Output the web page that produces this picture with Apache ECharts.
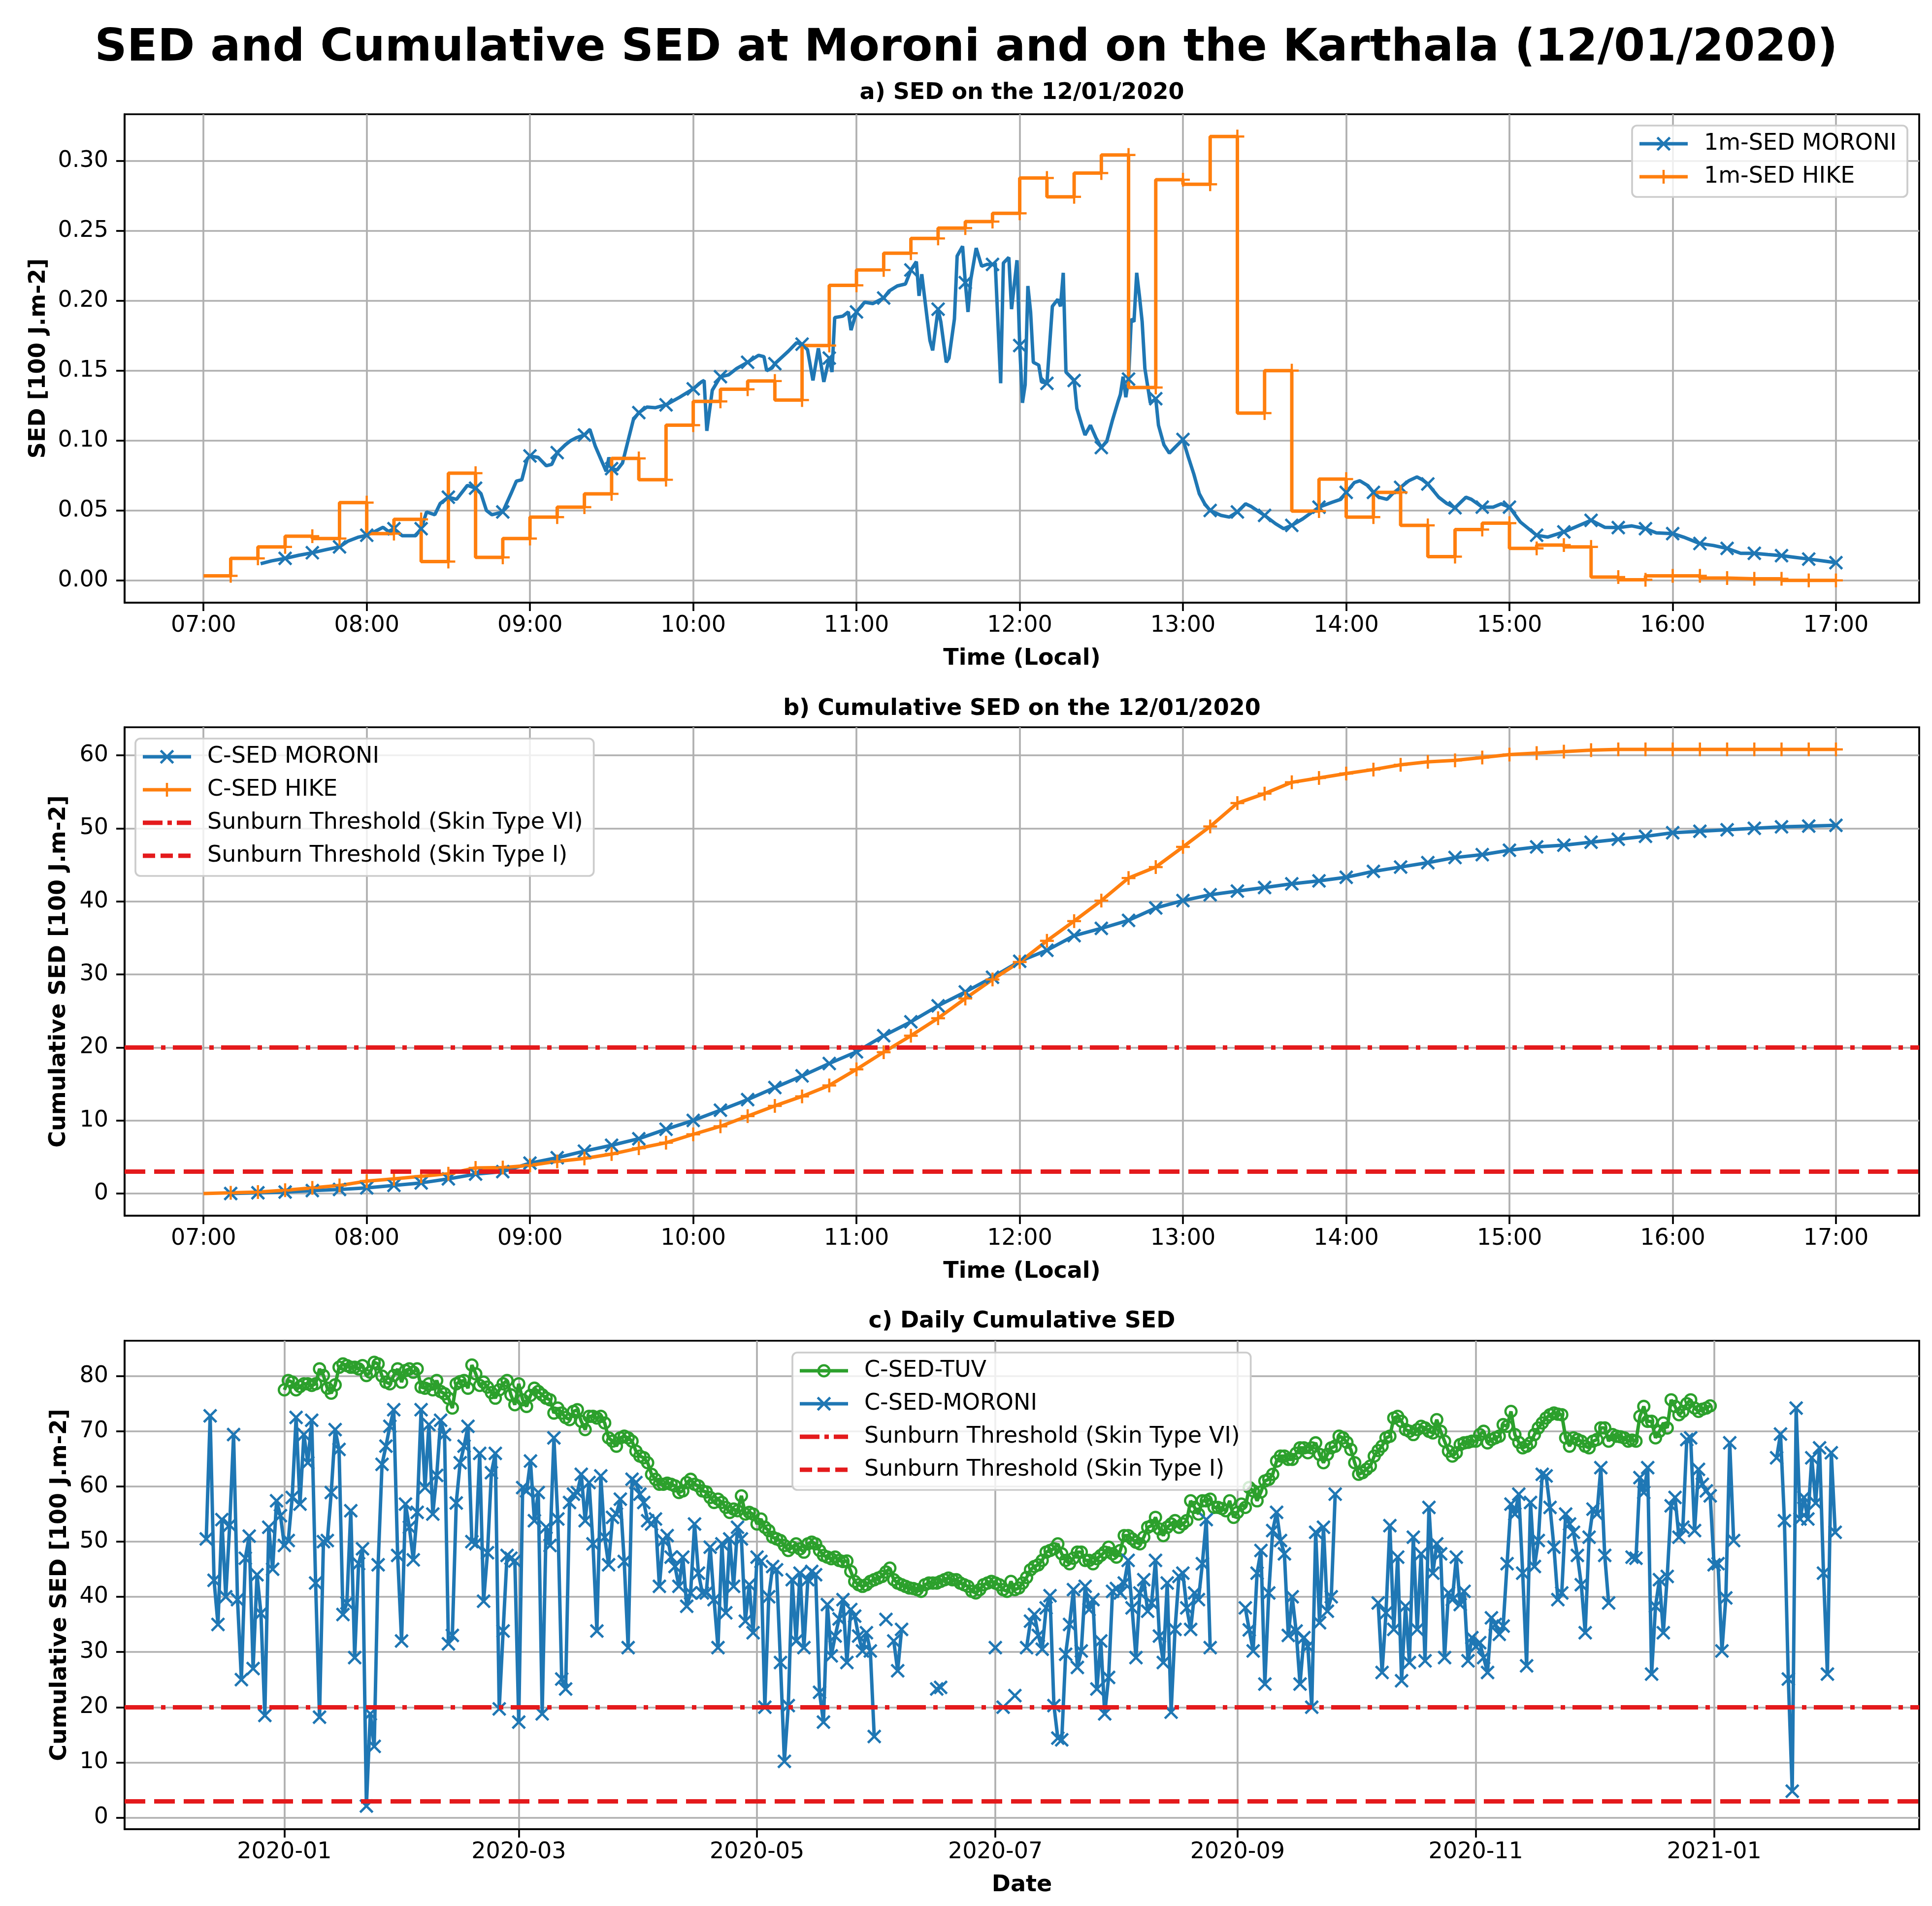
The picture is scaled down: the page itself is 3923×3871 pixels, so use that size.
<!DOCTYPE html>
<html>
<head>
<meta charset="utf-8">
<script src="https://cdn.jsdelivr.net/npm/echarts@6.0.0/dist/echarts.min.js"></script>
<style>
  html, body { margin: 0; padding: 0; background: #fff; }
  #main { width: 3923px; height: 3871px; }
</style>
</head>
<body>
<div id="main"></div>
<script>
// ---- panel a : 1-minute SED (readings, [100 J.m-2]) ----
var moroniMinTimes = [
  '07:21','07:25','07:30','07:35','07:40','07:45','07:50','07:53','07:57','08:00',
  '08:03','08:06','08:08','08:10','08:13','08:18','08:20','08:22','08:25','08:27',
  '08:30','08:33','08:37','08:40','08:42','08:44','08:46','08:48','08:50','08:53',
  '08:55','08:57','08:59','09:00','09:03','09:06','09:08','09:10','09:13','09:15',
  '09:17','09:20','09:22','09:24','09:26','09:28','09:29','09:30','09:32','09:34',
  '09:36','09:38','09:40','09:43','09:46','09:50','09:55','10:00','10:03','10:04',
  '10:05','10:07','10:10','10:13','10:16','10:20','10:24','10:26','10:27','10:29',
  '10:30','10:35','10:38','10:40','10:42','10:44','10:46','10:48','10:50','10:51',
  '10:52','10:55','10:57','10:58','11:00','11:03','11:06','11:10','11:12','11:15',
  '11:18','11:20','11:22','11:23','11:24','11:26','11:27','11:28','11:30','11:31',
  '11:33','11:34','11:36','11:37','11:39','11:40','11:41','11:42','11:44','11:46',
  '11:48','11:50','11:51','11:53','11:54','11:56','11:57','11:59','12:00','12:01',
  '12:02','12:03','12:04','12:05','12:07','12:08','12:10','12:12','12:14','12:15',
  '12:16','12:17','12:20','12:21','12:23','12:24','12:26','12:28','12:30','12:32',
  '12:34','12:36','12:37','12:38','12:39','12:40','12:41','12:42','12:43','12:44',
  '12:45','12:46','12:48','12:50','12:51','12:53','12:55','12:57','13:00','13:02',
  '13:04','13:06','13:08','13:10','13:14','13:17','13:20','13:23','13:25','13:30',
  '13:34','13:37','13:40','13:44','13:50','13:55','13:58','14:00','14:03','14:05',
  '14:08','14:10','14:12','14:15','14:17','14:20','14:23','14:26','14:28','14:30',
  '14:34','14:37','14:40','14:44','14:46','14:50','14:54','14:57','15:00','15:04',
  '15:10','15:14','15:20','15:24','15:30','15:35','15:40','15:45','15:50','15:54',
  '16:00','16:04','16:10','16:15','16:20','16:25','16:30','16:35','16:40','16:45',
  '16:50','16:55','17:00'
];
var moroniMinSed = [
  0.012,0.014,0.0158,0.018,0.0198,0.022,0.024,0.028,0.031,0.0323,
  0.035,0.038,0.035,0.037,0.032,0.032,0.037,0.049,0.047,0.055,
  0.0595,0.058,0.068,0.066,0.062,0.050,0.047,0.048,0.049,0.062,
  0.071,0.072,0.087,0.089,0.088,0.082,0.083,0.0914,0.097,0.100,
  0.102,0.104,0.108,0.096,0.087,0.078,0.088,0.080,0.079,0.084,
  0.0996,0.115,0.120,0.124,0.1235,0.1256,0.131,0.137,0.142,0.143,
  0.107,0.136,0.1457,0.147,0.1516,0.156,0.161,0.160,0.150,0.152,
  0.155,0.164,0.170,0.169,0.165,0.143,0.166,0.142,0.159,0.149,
  0.188,0.189,0.192,0.179,0.192,0.199,0.198,0.202,0.207,0.2106,
  0.212,0.222,0.228,0.2035,0.219,0.187,0.1716,0.1645,0.194,0.185,
  0.156,0.159,0.187,0.232,0.239,0.213,0.192,0.215,0.2377,0.2247,
  0.226,0.226,0.227,0.141,0.227,0.231,0.194,0.229,0.168,0.127,
  0.140,0.2106,0.192,0.156,0.154,0.142,0.141,0.196,0.201,0.196,
  0.220,0.149,0.143,0.123,0.110,0.104,0.111,0.102,0.095,0.0996,
  0.114,0.127,0.133,0.1457,0.131,0.144,0.187,0.185,0.220,0.2035,
  0.185,0.1516,0.127,0.130,0.111,0.097,0.091,0.095,0.1008,0.088,
  0.076,0.062,0.0548,0.050,0.0465,0.0453,0.049,0.0548,0.053,0.0465,
  0.0406,0.037,0.0394,0.044,0.0524,0.056,0.058,0.063,0.070,0.0713,
  0.0677,0.063,0.0595,0.058,0.062,0.0666,0.0713,0.074,0.072,0.069,
  0.0595,0.055,0.052,0.0595,0.058,0.0524,0.0524,0.0548,0.0524,0.0418,
  0.0323,0.031,0.0347,0.038,0.043,0.038,0.0378,0.039,0.037,0.034,
  0.0335,0.031,0.0264,0.025,0.0229,0.0194,0.0194,0.0185,0.0177,0.0165,
  0.0153,0.014,0.0127
];
// hike levels, one per 10 minute block starting 07:00
var hikeStart = '07:00';
var hikeLevels = [
  0.0033,0.0158,0.024,0.0316,0.030,0.0557,
  0.0335,0.0437,0.0135,0.0767,0.0165,0.030,
  0.0453,0.0524,0.0619,0.0873,0.072,0.111,
  0.128,0.1367,0.1426,0.129,0.168,0.211,
  0.222,0.234,0.2446,0.252,0.2566,0.2625,
  0.2878,0.2743,0.2913,0.3043,0.138,0.2866,
  0.2833,0.3175,0.1197,0.150,0.0496,0.0725,
  0.0453,0.063,0.0394,0.017,0.0364,0.041,
  0.0229,0.0253,0.024,0.0024,0.0005,0.0033,
  0.0033,0.0017,0.0012,0.0012,0.0,0.0
];

// ---- panel b : cumulative SED, every 10 minutes ----
var cumMoroniStart = '07:10';
var cumMoroni = [
  0.0,0.1,0.2,0.4,0.55,0.77,
  1.1,1.45,2.0,2.65,3.0,4.15,
  4.9,5.8,6.6,7.5,8.8,10.0,
  11.4,12.85,14.5,16.1,17.8,19.4,
  21.6,23.5,25.7,27.6,29.6,31.8,
  33.3,35.3,36.3,37.4,39.1,40.1,
  40.9,41.4,41.9,42.4,42.8,43.3,
  44.1,44.7,45.3,46.0,46.4,47.0,
  47.45,47.7,48.1,48.5,48.9,49.4,
  49.6,49.8,50.0,50.2,50.3,50.4
];
var cumHikeStart = '07:00';
var cumHike = [
  0,
  0.1,0.2,0.45,0.77,1.1,1.7,
  2.0,2.35,2.7,3.5,3.55,3.85,
  4.4,4.8,5.4,6.2,6.95,8.1,
  9.2,10.6,12.0,13.3,14.8,17.0,
  19.35,21.6,24.0,26.7,29.3,31.7,
  34.6,37.3,40.1,43.2,44.7,47.45,
  50.25,53.45,54.75,56.3,56.9,57.5,
  58.05,58.7,59.1,59.3,59.7,60.1,
  60.3,60.5,60.7,60.8,60.8,60.8,
  60.8,60.8,60.8,60.8,60.8,60.8
];
var thresholdSkinVI = 20;
var thresholdSkinI = 3;

// ---- panel c : daily cumulative SED ----
var dailyMoroniStart = '2019-12-12';
var dailyMoroni = [
  // 2019-12-12 .. 2019-12-31
  50.5,72.8,43,35,54,40,53,69.4,39.5,25,47,51,27,44,37,18.5,52.6,45,57.4,54.7,
  // 2020-01
  49.3,50.2,58,72.5,56.8,69.4,64.3,72,42.5,18.2,50,50.2,58.9,70.3,66.7,36.8,38.9,55.6,29,46,48.7,2.1,18.8,12.9,45.8,64,67.3,70.9,73.9,47.5,32,
  // 2020-02
  56.8,52.6,46.7,55.3,73.9,59.8,71.2,55,62,72,69.4,31.5,33,57,64.3,67.3,70.9,50,49.6,66,39.2,48,62.5,66,19.7,33.8,47.5,47,46.5,
  // 2020-03
  17.3,59.8,59.2,64.6,53.8,58.9,18.8,52.6,49.3,68.8,54.1,25.1,23.3,57.1,58.6,58.9,62.2,53.8,60.7,49.6,33.8,61.9,50.8,45.8,54.4,55,57.7,46.4,30.8,61.3,60.7,
  // 2020-04
  58.6,57.1,53.8,53.2,54.1,41.9,50.2,51.1,47.2,45.5,41.9,47.2,38.3,40.7,53.2,44.3,40.7,40.7,49,39.5,30.8,49.6,37.1,50.5,41.9,52.6,50.5,35.6,42.2,33.5,
  // 2020-05
  47.2,46.4,20,40,45.5,44.9,28.1,10.2,20.3,43.1,32,44.3,30.8,43.1,44.6,44,22.7,17.3,38.6,29.3,32.9,36,39.5,28.1,37.7,36.5,32.9,30.2,33.5,30.2,14.7,
  // 2020-06
  null,null,35.9,null,32,26.6,34.1,null,null,null,null,null,null,null,null,23.3,23.6,
  null,null,null,null,null,null,null,null,null,null,null,null,null,
  // 2020-07
  30.8,null,20,null,null,22.1,null,null,30.8,35.6,36.8,33,30.5,38,40.2,20.3,14.4,14.1,29.6,35,41.3,27.2,30.2,41.9,37.7,39.5,23.3,32,18.8,25.4,41,
  // 2020-08
  41.5,40.7,42.5,46.6,38,29,40.7,43.1,37.4,38.9,46.6,32.9,28.1,42.5,19.1,34.1,43.7,44.3,38,34.1,40.7,39.5,46,54,30.8,null,null,null,null,null,null,
  // 2020-09
  null,null,38,34,30.2,44.3,48.4,24.2,40.7,52,55.3,50.2,47.8,33,40,33.8,24.2,32.6,31,20,51.7,35.3,52.6,37.4,40,58.6,null,null,null,null,
  // 2020-10
  null,null,null,null,null,null,38.9,26.3,37.1,52.9,34.1,47.2,24.8,38.3,28.1,50.8,34.1,47.8,28.4,56.2,44.3,49.6,47.8,29,40.7,39.5,47.2,38.6,41,28.4,32.6,
  // 2020-11
  31,31.7,29,26.3,36.2,35,33.2,34.7,46,56.8,55,58.6,44.3,27.5,57.1,45.5,50.2,62.2,61.9,56.2,49,39.5,40.7,55,53.2,51.7,47.5,42.2,33.5,50.8,
  // 2020-12
  55.9,55,63.4,47.5,38.9,null,null,null,null,null,47.2,47,61.6,58.9,63.4,26,38.3,43.1,33.5,43.7,56.5,58,50.8,52.6,68.5,68.8,52,63.1,60.4,59.2,58.3,
  // 2021-01
  45.8,46,30.2,39.8,67.9,50.2,null,null,null,null,null,null,null,null,null,null,65.2,69.5,53.8,25.1,4.8,74.2,54.1,58,54.1,65.2,57,67,44.3,26,66.1,
  // 2021-02-01
  51.7
];
var dailyTuvStart = '2020-01-01';
var dailyTuv = [
  // 2020-01
  77.5,79.2,78.9,77.5,78.1,78.6,78.6,78.3,78.6,81.3,80.1,77.8,76.9,78.4,81.6,82.2,81.9,81.6,81.6,81.3,81.9,80.1,80.7,82.5,82.2,80.0,78.9,78.6,80.1,81.3,78.9,
  // 2020-02
  81.0,81.3,80.7,81.3,78.0,77.8,78.6,77.5,79.2,77.2,76.8,76.0,74.2,78.6,79.0,79.2,77.8,82.0,80.4,78.3,78.9,78.0,77.0,76.0,77.5,78.6,79.2,76.6,74.8,
  // 2020-03
  78.6,75.7,74.5,76.5,77.8,77.2,76.6,76.0,75.7,73.3,74.2,73.3,72.5,72.1,73.6,73.9,71.8,70.3,72.7,72.7,72.4,72.7,71.5,68.8,68.2,67.3,68.8,69.1,68.8,68.2,66.4,
  // 2020-04
  65.5,65.2,64.3,62.2,61.3,60.4,60.4,60.6,60.4,60.1,58.9,59.2,60.7,61.3,60.4,60.1,59.2,59.0,58.0,57.1,57.7,57.1,56.2,55.3,55.9,55.6,58.3,55.0,55.3,55.0,
  // 2020-05
  53.2,54.1,52.6,52.0,50.8,50.5,50.2,49.3,48.4,49.0,49.6,48.7,48.1,49.6,49.9,49.6,48.4,47.5,47.2,46.9,47.2,46.6,46.4,46.5,44.6,42.8,42.2,41.9,42.2,42.8,43.1,
  // 2020-06
  43.4,43.7,44.5,45.2,43.1,42.5,42.2,41.9,41.6,41.5,41.3,41.0,42.2,42.5,42.5,42.5,42.8,43.1,43.4,43.1,43.1,42.5,42.2,41.9,41.0,40.7,41.3,42.2,42.5,42.8,
  // 2020-07
  42.5,42.2,41.3,41.0,42.8,41.3,41.6,42.5,43.5,44.9,45.5,45.8,46.6,48.1,48.4,48.7,49.6,47.8,46.6,46.0,47.0,48.1,48.1,46.6,46.6,46.0,46.9,47.5,48.1,49.0,47.8,
  // 2020-08
  47.2,48.4,51.1,51.1,50.5,49.9,49.6,50.8,52.6,52.9,54.4,52.3,51.1,52.6,53.2,53.8,52.6,53.2,53.8,57.4,56.2,55.0,57.4,57.4,57.7,56.2,56.2,56.0,55.6,57.4,54.4,
  // 2020-09
  55.3,56.8,56.2,59.8,59.2,57.4,59.0,61.0,61.3,62.2,64.6,65.5,65.5,64.9,64.9,66.0,67.0,67.0,66.1,67.0,67.9,65.8,64.3,65.8,67.0,67.3,69.1,68.8,68.0,66.7,
  // 2020-10
  64.3,62.2,62.5,63.1,63.7,65.5,66.5,67.3,68.8,69.1,72.4,72.7,71.8,70.3,70.0,69.4,70.3,70.9,70.6,70.0,69.7,72.1,70.0,68.2,66.4,65.5,66.1,67.6,67.9,68.0,68.2,
  // 2020-11
  68.2,69.4,70.0,67.9,68.5,68.8,69.1,71.2,70.9,73.6,69.4,68.0,67.0,67.3,67.9,69.4,70.6,71.5,72.4,73.0,73.3,73.1,73.0,68.8,67.3,68.8,68.5,68.2,67.3,67.0,
  // 2020-12
  68.2,68.5,70.6,70.6,68.2,69.4,69.1,69.0,68.8,68.2,68.4,68.2,72.7,74.5,71.8,71.8,68.8,70.0,71.5,70.6,75.7,74.5,73.0,73.6,75.0,75.7,74.2,73.6,74.0,74.2,74.6
];

// ---- axis ticks ----
var hourTicks = ['07:00','08:00','09:00','10:00','11:00','12:00','13:00','14:00','15:00','16:00','17:00'];
var monthTicks = ['2020-01','2020-03','2020-05','2020-07','2020-09','2020-11','2021-01'];
var sedTicks = [0, 0.05, 0.10, 0.15, 0.20, 0.25, 0.30];
var cumTicks = [0, 10, 20, 30, 40, 50, 60];
var dailyTicks = [0, 10, 20, 30, 40, 50, 60, 70, 80];

var BLUE = '#1f77b4', ORANGE = '#ff7f0e', GREEN = '#2ca02c', RED = '#e41a1c';
var FONT = 'DejaVu Sans';
var DAY = 86400000;
var X_SYMBOL = 'path://M0,12L12,0L100,88L88,100Z M88,0L100,12L12,100L0,88Z';
var PLUS_SYMBOL = 'path://M42,0L58,0L58,42L100,42L100,58L58,58L58,100L42,100L42,58L0,58L0,42L42,42Z';
var DASHDOT = [59, 15, 9, 15];
var DASHED = [42, 18];

// legend handles (98 x 29 box): line with marker, like the plot lines
var ICON_X = 'path://M0,11L98,11L98,18L0,18Z M34.5,3.5L38,0L63.5,25.5L60,29Z M60,0L63.5,3.5L38,29L34.5,25.5Z';
var ICON_PLUS = 'path://M0,11L98,11L98,18L0,18Z M46.75,0.5L51.25,0.5L51.25,28.5L46.75,28.5Z M35,0L35.01,0L35,0.01Z M63,29L62.99,29L63,28.99Z';
var ICON_RING = 'path://M0,11L98,11L98,18L0,18Z M35.5,14.5A13.5,13.5 0 1,1 62.5,14.5A13.5,13.5 0 1,1 35.5,14.5Z M40.1,14.5A8.9,8.9 0 1,0 57.9,14.5A8.9,8.9 0 1,0 40.1,14.5Z M0,0L0.01,0L0,0.01Z M98,29L97.99,29L98,28.99Z';
var ICON_DASHDOT = 'path://M0,9.9L40,9.9L40,19.1L0,19.1Z M50,9.9L59,9.9L59,19.1L50,19.1Z M69,9.9L98,9.9L98,19.1L69,19.1Z M0,0L0.01,0L0,0.01Z M98,29L97.99,29L98,28.99Z';
var ICON_DASHED = 'path://M0,9.9L25,9.9L25,19.1L0,19.1Z M36,9.9L61,9.9L61,19.1L36,19.1Z M72,9.9L97,9.9L97,19.1L72,19.1Z M0,0L0.01,0L0,0.01Z M98,29L97.99,29L98,28.99Z';

function hm(s) {
    var p = s.split(':');
    return parseInt(p[0], 10) * 60 + parseInt(p[1], 10);
}
function fmtHM(v) {
    var h = Math.floor(v / 60), m = Math.round(v - h * 60);
    return (h < 10 ? '0' + h : h) + ':' + (m < 10 ? '0' + m : m);
}
function ymd(s) {
    var p = s.split('-');
    return Date.UTC(+p[0], +p[1] - 1, p[2] ? +p[2] : 1);
}
function fmtYM(v) {
    var d = new Date(v);
    var m = d.getUTCMonth() + 1;
    return d.getUTCFullYear() + '-' + (m < 10 ? '0' + m : m);
}

// build series data
var moroniMinData = [];
for (var i = 0; i < moroniMinTimes.length; i++) {
    var t = hm(moroniMinTimes[i]);
    var item = { value: [t, moroniMinSed[i]] };
    if (t % 10 !== 0) item.symbol = 'none';
    moroniMinData.push(item);
}
var hikeData = [{ value: [hm(hikeStart), hikeLevels[0]], symbol: 'none' }];
for (var i = 0; i < hikeLevels.length; i++) {
    hikeData.push([hm(hikeStart) + 10 * (i + 1), hikeLevels[i]]);
}
var cumMoroniData = [];
for (var i = 0; i < cumMoroni.length; i++) {
    cumMoroniData.push([hm(cumMoroniStart) + 10 * i, cumMoroni[i]]);
}
var cumHikeData = [];
for (var i = 0; i < cumHike.length; i++) {
    var it = { value: [hm(cumHikeStart) + 10 * i, cumHike[i]] };
    if (i === 0) it.symbol = 'none';
    cumHikeData.push(it);
}
var dailyMoroniData = [];
for (var i = 0; i < dailyMoroni.length; i++) {
    dailyMoroniData.push([ymd(dailyMoroniStart) + i * DAY, dailyMoroni[i]]);
}
var dailyTuvData = [];
for (var i = 0; i < dailyTuv.length; i++) {
    dailyTuvData.push([ymd(dailyTuvStart) + i * DAY, dailyTuv[i]]);
}

var hourTickVals = hourTicks.map(hm);
var monthTickVals = monthTicks.map(ymd);

var gridTops = [232, 1477, 2723];
var gridH = 992;

function makeGrid(top) {
    return { left: 253, width: 3644, top: top, height: gridH, show: true,
             borderColor: '#000', borderWidth: 3.7, backgroundColor: 'transparent' };
}
function makeXAxis(gi, min, max, ticks, fmt, name) {
    return {
        type: 'value', gridIndex: gi, min: min, max: max,
        name: name, nameLocation: 'middle', nameGap: 91,
        nameTextStyle: { fontFamily: FONT, fontSize: 46, fontWeight: 'bold', color: '#000' },
        axisLine: { show: true, onZero: false, lineStyle: { color: '#000', width: 3.7 } },
        axisTick: { show: true, length: 17, lineStyle: { color: '#000', width: 3.7 }, customValues: ticks },
        axisLabel: { customValues: ticks, formatter: fmt, fontFamily: FONT, fontSize: 46, color: '#000', margin: 24 },
        splitLine: { show: true, lineStyle: { color: '#b0b0b0', width: 3.7 } }
    };
}
function makeYAxis(gi, min, max, ticks, fmt, name, gap) {
    return {
        type: 'value', gridIndex: gi, min: min, max: max,
        name: name, nameLocation: 'middle', nameRotate: 90, nameGap: gap,
        nameTextStyle: { fontFamily: FONT, fontSize: 46, fontWeight: 'bold', color: '#000' },
        axisLine: { show: true, onZero: false, lineStyle: { color: '#000', width: 3.7 } },
        axisTick: { show: true, length: 17, lineStyle: { color: '#000', width: 3.7 }, customValues: ticks },
        axisLabel: { customValues: ticks, formatter: fmt, fontFamily: FONT, fontSize: 46, color: '#000', margin: 33 },
        splitLine: { show: true, lineStyle: { color: '#b0b0b0', width: 3.7 } }
    };
}
function makeThreshold(name, value, idx, dash) {
    return {
        name: name, type: 'line', xAxisIndex: idx, yAxisIndex: idx, data: [],
        symbol: 'none', color: RED,
        lineStyle: { color: RED, width: 9.2, type: dash },
        itemStyle: { color: RED },
        markLine: {
            silent: true, symbol: ['none', 'none'], label: { show: false },
            lineStyle: { color: RED, width: 9.2, type: dash },
            emphasis: { disabled: true },
            data: [{ yAxis: value }]
        }
    };
}
function legendItem(name, icon, color) {
    return { name: name, icon: icon, itemStyle: { color: color, borderWidth: 0 } };
}
function makeLegend(left, top, items) {
    return {
        left: left, top: top, orient: 'vertical', data: items,
        itemWidth: 98, itemHeight: 29, itemGap: 21, selectedMode: false,
        padding: [14, 22, 18, 15],
        backgroundColor: 'rgba(255,255,255,0.8)', borderColor: '#cccccc',
        borderWidth: 3.7, borderRadius: 10,
        textStyle: { fontFamily: FONT, fontSize: 46, color: '#000', lineHeight: 46, padding: [0, 0, 0, 28] }
    };
}

var titleStyle = { fontFamily: FONT, fontSize: 46, fontWeight: 'bold', color: '#000' };

var option = {
    animation: false,
    backgroundColor: '#fff',
    textStyle: { fontFamily: FONT },
    title: [
        { text: 'SED and Cumulative SED at Moroni and on the Karthala (12/01/2020)',
          left: 1962, top: 54, textAlign: 'center', padding: 0,
          textStyle: { fontFamily: FONT, fontSize: 91, fontWeight: 'bold', color: '#000' } },
        { text: 'a) SED on the 12/01/2020', left: 2075, top: 166, textAlign: 'center', padding: 0, textStyle: titleStyle },
        { text: 'b) Cumulative SED on the 12/01/2020', left: 2075, top: 1417, textAlign: 'center', padding: 0, textStyle: titleStyle },
        { text: 'c) Daily Cumulative SED', left: 2075, top: 2661, textAlign: 'center', padding: 0, textStyle: titleStyle }
    ],
    legend: [
        makeLegend(3314, 255, [
            legendItem('1m-SED MORONI', ICON_X, BLUE),
            legendItem('1m-SED HIKE', ICON_PLUS, ORANGE)
        ]),
        makeLegend(275, 1500, [
            legendItem('C-SED MORONI', ICON_X, BLUE),
            legendItem('C-SED HIKE', ICON_PLUS, ORANGE),
            legendItem('Sunburn Threshold (Skin Type VI)', ICON_DASHDOT, RED),
            legendItem('Sunburn Threshold (Skin Type I)', ICON_DASHED, RED)
        ]),
        makeLegend(1609, 2747, [
            legendItem('C-SED-TUV', ICON_RING, GREEN),
            legendItem('C-SED-MORONI', ICON_X, BLUE),
            legendItem('Sunburn Threshold (Skin Type VI)', ICON_DASHDOT, RED),
            legendItem('Sunburn Threshold (Skin Type I)', ICON_DASHED, RED)
        ])
    ],
    grid: [makeGrid(gridTops[0]), makeGrid(gridTops[1]), makeGrid(gridTops[2])],
    xAxis: [
        makeXAxis(0, 391, 1050.6, hourTickVals, fmtHM, 'Time (Local)'),
        makeXAxis(1, 391, 1050.6, hourTickVals, fmtHM, 'Time (Local)'),
        makeXAxis(2, ymd('2020-01-01') - 40.9 * DAY, ymd('2020-01-01') + 418.5 * DAY, monthTickVals, fmtYM, 'Date')
    ],
    yAxis: [
        makeYAxis(0, -0.0159, 0.3334, sedTicks, function (v) { return v.toFixed(2); }, 'SED [100 J.m-2]', 151),
        makeYAxis(1, -3.04, 63.84, cumTicks, function (v) { return String(Math.round(v)); }, 'Cumulative SED [100 J.m-2]', 110),
        makeYAxis(2, -2.1, 86.4, dailyTicks, function (v) { return String(Math.round(v)); }, 'Cumulative SED [100 J.m-2]', 108)
    ],
    series: [
        { name: '1m-SED MORONI', type: 'line', xAxisIndex: 0, yAxisIndex: 0, data: moroniMinData,
          symbol: X_SYMBOL, symbolSize: 29, showAllSymbol: true, color: BLUE,
          lineStyle: { color: BLUE, width: 7 }, itemStyle: { color: BLUE }, emphasis: { disabled: true } },
        { name: '1m-SED HIKE', type: 'line', step: 'start', xAxisIndex: 0, yAxisIndex: 0, data: hikeData,
          symbol: PLUS_SYMBOL, symbolSize: 28, showAllSymbol: true, color: ORANGE,
          lineStyle: { color: ORANGE, width: 7 }, itemStyle: { color: ORANGE }, emphasis: { disabled: true } },

        { name: 'C-SED MORONI', type: 'line', xAxisIndex: 1, yAxisIndex: 1, data: cumMoroniData,
          symbol: X_SYMBOL, symbolSize: 29, showAllSymbol: true, color: BLUE,
          lineStyle: { color: BLUE, width: 7 }, itemStyle: { color: BLUE }, emphasis: { disabled: true } },
        { name: 'C-SED HIKE', type: 'line', xAxisIndex: 1, yAxisIndex: 1, data: cumHikeData,
          symbol: PLUS_SYMBOL, symbolSize: 28, showAllSymbol: true, color: ORANGE,
          lineStyle: { color: ORANGE, width: 7 }, itemStyle: { color: ORANGE }, emphasis: { disabled: true } },
        makeThreshold('Sunburn Threshold (Skin Type VI)', thresholdSkinVI, 1, DASHDOT),
        makeThreshold('Sunburn Threshold (Skin Type I)', thresholdSkinI, 1, DASHED),

        { name: 'C-SED-TUV', type: 'line', xAxisIndex: 2, yAxisIndex: 2, data: dailyTuvData,
          symbol: 'circle', symbolSize: 22.5, showAllSymbol: true, color: GREEN,
          lineStyle: { color: GREEN, width: 7 },
          itemStyle: { color: 'rgba(255,255,255,0)', borderColor: GREEN, borderWidth: 4.6 },
          emphasis: { disabled: true } },
        { name: 'C-SED-MORONI', type: 'line', xAxisIndex: 2, yAxisIndex: 2, data: dailyMoroniData,
          symbol: X_SYMBOL, symbolSize: 29, showAllSymbol: true, connectNulls: false, color: BLUE,
          lineStyle: { color: BLUE, width: 7 }, itemStyle: { color: BLUE }, emphasis: { disabled: true } },
        makeThreshold('Sunburn Threshold (Skin Type VI)', thresholdSkinVI, 2, DASHDOT),
        makeThreshold('Sunburn Threshold (Skin Type I)', thresholdSkinI, 2, DASHED)
    ]
};

var myChart = echarts.init(document.getElementById('main'), null, { renderer: 'canvas' });
myChart.setOption(option);
</script>
</body>
</html>
